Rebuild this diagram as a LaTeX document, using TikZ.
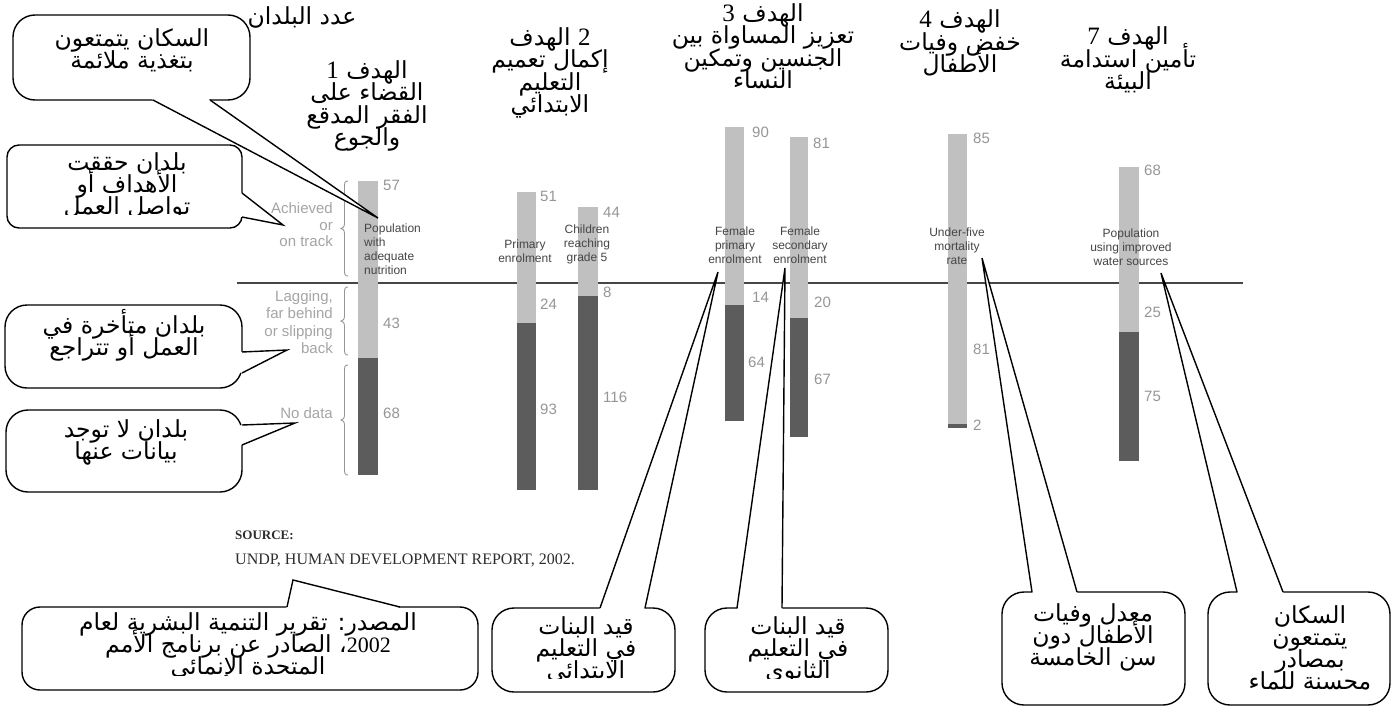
\documentclass[tikz,border=0pt]{standalone}
\usepackage{fontspec}
\setmainfont{Liberation Serif}
\newfontfamily\ar[Script=Arabic]{DejaVu Sans}
\newfontfamily\ls{Liberation Sans}
\newfontfamily\sr{Liberation Serif}
\TeXXeTstate=1
\newcommand\arl[1]{\beginR #1\endR}
\newcommand\tightlines{\lineskiplimit=-100pt\relax\lineskip=0pt\relax}
\newcommand\dg[1]{{\sr\fontsize{25}{22}\selectfont #1}}
\definecolor{lightbar}{RGB}{192,192,192}
\definecolor{darkbar}{RGB}{92,92,92}
\definecolor{numgray}{RGB}{150,150,150}
\definecolor{labgray}{RGB}{165,165,165}
\definecolor{txtgray}{RGB}{70,70,70}
\definecolor{srcgray}{RGB}{45,45,45}
\tikzset{
  callline/.style={draw=black, line width=1.4pt, line join=miter},
  artext/.style={font=\ar\fontsize{23.5}{22}\selectfont\tightlines, align=center, inner sep=0pt},
  goaltext/.style={font=\ar\fontsize{23.5}{22.5}\selectfont\tightlines, align=center, inner sep=0pt},
  numlab/.style={font=\ls\fontsize{15}{15}\selectfont, text=numgray, anchor=west, inner sep=0pt},
  barlab/.style={font=\ls\fontsize{12}{14}\selectfont, text=txtgray, align=center, inner sep=0pt},
  sidelab/.style={font=\ls\fontsize{15}{16.5}\selectfont, text=labgray, align=right, anchor=east, inner sep=0pt},
  bracepath/.style={draw=numgray, line width=0.9pt},
  axisline/.style={draw=txtgray, line width=1.4pt},
}
\newcommand\callshape[8]{%
  \filldraw[callline, fill=white, rounded corners=#5pt] (#1,#2) rectangle (#3,#4);
  \fill[white] (#6) -- (#7) -- (#8) -- ({(#1+#3)/2},{(#2+#4)/2}) -- cycle;
  \draw[callline] (#6) -- (#7) -- (#8);}
\newcommand\gbrace[2]{%
  \draw[bracepath] (348,#1) .. controls (344.5,#1) and (344.5,#1+2) .. (344.5,#1+7)
    -- (344.5,{(#1+#2)/2-5}) .. controls (344.5,{(#1+#2)/2-1.5}) and (342.5,{(#1+#2)/2}) .. (341,{(#1+#2)/2})
    .. controls (342.5,{(#1+#2)/2}) and (344.5,{(#1+#2)/2+1.5}) .. (344.5,{(#1+#2)/2+5})
    -- (344.5,#2-7) .. controls (344.5,#2-2) and (344.5,#2) .. (348,#2);}
\begin{document}
\begin{tikzpicture}[x=1pt,y=-1pt]
\useasboundingbox[fill=white] (0,0) rectangle (1393,707);

% ---- axis line ----
\coordinate (ln1) at (237,283);
\coordinate (ln2) at (1243,283);
\draw[axisline] (ln1) -- (ln2);

% ---- bars ----
\fill[lightbar] (358,181) rectangle (378,358);  \fill[darkbar] (358,358) rectangle (378,475);
\fill[lightbar] (517,192) rectangle (536,323);  \fill[darkbar] (517,323) rectangle (536,490);
\fill[lightbar] (578,207) rectangle (598,296);  \fill[darkbar] (578,296) rectangle (598,490);
\fill[lightbar] (725,127) rectangle (744,305);  \fill[darkbar] (725,305) rectangle (744,421);
\fill[lightbar] (790,137) rectangle (808,318);  \fill[darkbar] (790,318) rectangle (808,437);
\fill[lightbar] (948,134) rectangle (967,424);  \fill[darkbar] (948,424) rectangle (967,428);
\fill[lightbar] (1119,167) rectangle (1139,332); \fill[darkbar] (1119,332) rectangle (1139,461);

% ---- braces ----
\gbrace{181}{276}
\gbrace{287}{355}
\gbrace{365}{475}

% ---- side labels ----
\node[sidelab] (sa) at (333,225) {Achieved\\or\\on track};
\node[sidelab, font=\ls\fontsize{15}{17.5}\selectfont] (sb) at (333,322) {Lagging,\\far behind\\or slipping\\back};
\node[sidelab] (sc) at (333,413) {No data};

% ---- numbers ----
\node[numlab] (n1a) at (383,185) {57};
\node[numlab] (n1b) at (383,323) {43};
\node[numlab] (n1c) at (383,413) {68};
\node[numlab] (n2a) at (540,196) {51};
\node[numlab] (n2b) at (540,304) {24};
\node[numlab] (n2c) at (540,409) {93};
\node[numlab] (n3a) at (603,212) {44};
\node[numlab] (n3b) at (603,292) {8};
\node[numlab] (n3c) at (603,397) {116};
\node[numlab] (n4a) at (752,132) {90};
\node[numlab] (n4b) at (752,297) {14};
\node[numlab] (n4c) at (748,362) {64};
\node[numlab] (n5a) at (813,143) {81};
\node[numlab] (n5b) at (814,302) {20};
\node[numlab] (n5c) at (814,379) {67};
\node[numlab] (n6a) at (973,138) {85};
\node[numlab] (n6b) at (973,349) {81};
\node[numlab] (n6c) at (973,425) {2};
\node[numlab] (n7a) at (1144,170) {68};
\node[numlab] (n7b) at (1144,312) {25};
\node[numlab] (n7c) at (1144,396) {75};

% ---- bar labels ----
\node[barlab, align=left, anchor=west] (b1) at (364,249) {Population\\with\\adequate\\nutrition};
\node[barlab] (b2) at (525,251) {Primary\\enrolment};
\node[barlab] (b3) at (587,244) {Children\\reaching\\grade 5};
\node[barlab] (b4) at (735,245) {Female\\primary\\enrolment};
\node[barlab] (b5) at (800,245) {Female\\secondary\\enrolment};
\node[barlab] (b6) at (957,246) {Under-five\\mortality\\rate};
\node[barlab] (b7) at (1131,247) {Population\\using improved\\water sources};

% ---- source ----
\node[anchor=west, inner sep=0pt, text=srcgray, font=\sr\bfseries\fontsize{13}{13}\selectfont] (src1) at (235,535) {SOURCE:};
\node[anchor=west, inner sep=0pt, text=srcgray, font=\sr\fontsize{16}{16}\selectfont] (src2) at (235,560) {UNDP, HUMAN DEVELOPMENT REPORT, 2002.};

% ---- title and goals ----
\node[artext] (title) at (302,17) {\arl{عدد البلدان}};
\node[goaltext] (g1) at (367,106) {\arl{الهدف \dg{1}}\\\arl{القضاء على}\\\arl{الفقر المدقع}\\\arl{والجوع}};
\node[goaltext] (g2) at (550,73) {\arl{\dg{2} الهدف}\\\arl{إكمال تعميم}\\\arl{التعليم}\\\arl{الابتدائي}};
\node[goaltext] (g3) at (763,46) {\arl{الهدف \dg{3}}\\\arl{تعزيز المساواة بين}\\\arl{الجنسين وتمكين}\\\arl{النساء}};
\node[goaltext] (g4) at (960,43) {\arl{الهدف \dg{4}}\\\arl{خفض وفيات}\\\arl{الأطفال}};
\node[goaltext] (g7) at (1128,60) {\arl{الهدف \dg{7}}\\\arl{تأمين استدامة}\\\arl{البيئة}};

% ---- callout tips ----
\coordinate (t1) at (378,218);
\coordinate (t2) at (283,225);
\coordinate (t3) at (287,350);
\coordinate (t4) at (295,423);
\coordinate (t5) at (293,580);
\coordinate (t6) at (718,272);
\coordinate (t7) at (785,268);
\coordinate (t8) at (982,258);
\coordinate (t9) at (1161,273);

% ---- callouts ----
\callshape{13}{15}{250}{100}{22}{153,100}{t1}{210,100}
\callshape{7}{145}{242}{228}{12}{242,193}{t2}{242,217}
\callshape{5}{305}{242}{388}{22}{242,352}{t3}{242,373}
\callshape{6}{410}{242}{492}{22}{242,425}{t4}{242,445}
\callshape{22}{607}{478}{690}{18}{287,607}{t5}{400,607}
\callshape{492}{608}{675}{692}{22}{600,608}{t6}{645,608}
\callshape{705}{608}{888}{692}{22}{737,608}{t7}{782,608}
\callshape{1002}{592}{1185}{705}{22}{1032,592}{t8}{1077,592}
\callshape{1208}{592}{1390}{705}{22}{1237,592}{t9}{1283,592}

% ---- callout texts ----
\node[artext] (c1) at (132,50) {\arl{السكان يتمتعون}\\\arl{بتغذية ملائمة}};
\begin{scope}
  \clip (7,145) rectangle (242,214);
  \node[artext] (c2) at (127,186) {\arl{بلدان حققت}\\\arl{الأهداف أو}\\\arl{تواصل العمل}};
\end{scope}
\node[artext] (c3) at (124,335) {\arl{بلدان متأخرة في}\\\arl{العمل أو تتراجع}};
\node[artext] (c4) at (126,442) {\arl{بلدان لا توجد}\\\arl{بيانات عنها}};
\begin{scope}
  \clip (22,607) rectangle (478,675);
  \node[artext] (c5) at (248,646) {\arl{المصدر: تقرير التنمية البشرية لعام}\\\arl{\beginL{\sr\fontsize{22}{22}\selectfont 2002}\endL، الصادر عن برنامج الأمم}\\\arl{المتحدة الإنمائي}};
\end{scope}
\begin{scope}
  \clip (492,608) rectangle (675,678);
  \node[artext] (c6) at (586,650) {\arl{قيد البنات}\\\arl{في التعليم}\\\arl{الابتدائي}};
\end{scope}
\begin{scope}
  \clip (705,608) rectangle (888,678);
  \node[artext] (c7) at (798,650) {\arl{قيد البنات}\\\arl{في التعليم}\\\arl{الثانوي}};
\end{scope}
\node[artext] (c8) at (1093,637) {\arl{معدل وفيات}\\\arl{الأطفال دون}\\\arl{سن الخامسة}};
\node[artext] (c9) at (1310,648) {\arl{السكان}\\\arl{يتمتعون}\\\arl{بمصادر}\\\arl{محسنة للماء}};
\end{tikzpicture}
\end{document}
